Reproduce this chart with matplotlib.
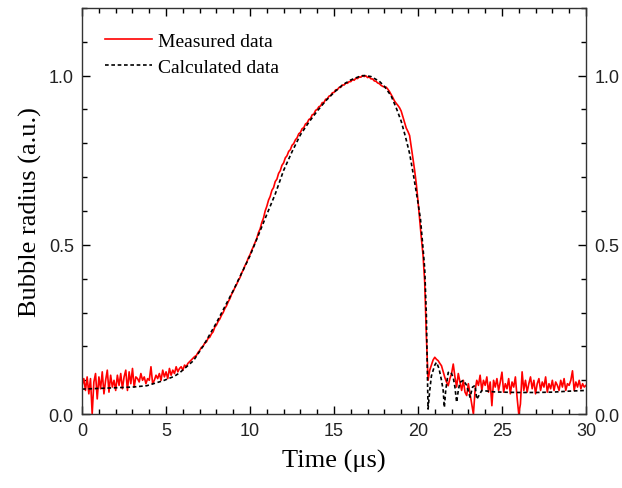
import numpy as np
import matplotlib
matplotlib.use("Agg")
import matplotlib.pyplot as plt
from matplotlib.ticker import MultipleLocator

# ─── DONNÉES ─────────────────────────────────────────────────────────────────
# mesure : pas de 0.1 µs de 0 à 30 µs
t_meas = np.round(np.arange(0, 30.001, 0.1), 1)

r_base = [0.085, 0.105, 0.07, 0.11, 0.06, 0.105, 0.0, 0.095, 0.12, 0.045,
          0.11, 0.075, 0.125, 0.06, 0.1, 0.13, 0.065, 0.115, 0.08, 0.1,
          0.07, 0.115, 0.085, 0.12, 0.075, 0.11, 0.13, 0.07, 0.125, 0.09,
          0.135, 0.08, 0.11, 0.105, 0.095, 0.12, 0.1, 0.11, 0.09, 0.105,
          0.1]                                                    # 0.0 - 4.0
r_onset = [0.14, 0.09, 0.1, 0.115, 0.105, 0.12, 0.1, 0.13, 0.11, 0.125,
           0.105, 0.135, 0.115, 0.13, 0.12, 0.14, 0.125, 0.135, 0.14, 0.13,
           0.145, 0.14, 0.15, 0.155, 0.16]                        # 4.1 - 6.5
r_rise = [0.165, 0.17, 0.173, 0.182, 0.188, 0.197, 0.2, 0.21, 0.213, 0.224,
          0.227, 0.237, 0.243, 0.257, 0.263, 0.274, 0.281, 0.292, 0.3, 0.312,
          0.32, 0.332, 0.341, 0.354, 0.363, 0.374, 0.383, 0.395, 0.403, 0.417,
          0.426, 0.439, 0.448, 0.462, 0.471, 0.484, 0.495, 0.507, 0.519, 0.536,
          0.547, 0.566, 0.579, 0.6, 0.614, 0.632, 0.643, 0.661, 0.669, 0.687,
          0.694, 0.711, 0.719, 0.735, 0.742, 0.757, 0.763, 0.776, 0.781, 0.794,
          0.799, 0.81, 0.816, 0.828, 0.832, 0.843, 0.846, 0.857, 0.86, 0.87,
          0.873, 0.884, 0.886, 0.897, 0.9, 0.908, 0.91, 0.92, 0.92, 0.93,
          0.931, 0.939, 0.941, 0.949, 0.95, 0.958, 0.958, 0.965, 0.965, 0.972,
          0.972, 0.978, 0.977, 0.982, 0.982, 0.988, 0.986, 0.992, 0.991, 0.996,
          0.995, 1.0, 0.997, 0.999, 0.994, 0.996, 0.99, 0.99, 0.984, 0.983,
          0.978, 0.976, 0.971, 0.968, 0.966, 0.966, 0.96, 0.953, 0.944, 0.935,
          0.925, 0.918, 0.912, 0.905, 0.895, 0.878, 0.86, 0.845, 0.835, 0.823,
          0.79, 0.755, 0.72, 0.68, 0.63, 0.575, 0.52, 0.47, 0.39, 0.23]  # 6.6 - 20.5
r_tail = [0.10, 0.13, 0.145, 0.16, 0.168, 0.162, 0.158, 0.15, 0.143, 0.125,
          0.108, 0.095, 0.084, 0.105, 0.12, 0.148, 0.11, 0.08, 0.12, 0.095,
          0.07, 0.1, 0.065, 0.055, 0.09, 0.06, 0.03, 0.0, 0.07, 0.1,
          0.085, 0.115, 0.07, 0.1, 0.085, 0.11, 0.065, 0.095, 0.025, 0.1,
          0.08, 0.105, 0.07, 0.095, 0.124, 0.065, 0.09, 0.075, 0.105, 0.06,
          0.095, 0.08, 0.11, 0.05, 0.0, 0.03, 0.125, 0.07, 0.1, 0.065,
          0.09, 0.11, 0.075, 0.1, 0.06, 0.09, 0.105, 0.07, 0.095, 0.08,
          0.11, 0.065, 0.09, 0.075, 0.1, 0.07, 0.095, 0.085, 0.07, 0.1,
          0.08, 0.105, 0.07, 0.09, 0.085, 0.1, 0.128, 0.07, 0.095, 0.08,
          0.1, 0.075, 0.09, 0.08, 0.085]                           # 20.6 - 30.0
r_meas = np.array(r_base + r_onset + r_rise + r_tail)

# calcul (courbe lisse)
t_calc = [0, 1, 2, 3, 3.85, 4.84, 5.5, 5.83, 6.63, 7.22, 8, 9, 10, 11, 11.5,
          12, 12.5, 13, 13.5, 14, 14.5, 15, 15.5, 16, 16.5, 16.8, 17.2, 17.7,
          18, 18.4, 18.7, 19, 19.25, 19.5, 19.75, 20, 20.15, 20.3, 20.4, 20.5,
          20.56, 20.6, 20.7, 20.8, 21.0, 21.1, 21.25, 21.4, 21.5, 21.57, 21.65,
          21.8, 21.95, 22.1, 22.2, 22.3, 22.4, 22.5, 22.7, 22.9, 23.1, 23.25,
          23.4, 23.5, 23.8, 24.5, 25, 26, 27, 28, 29, 30]
r_calc = [0.074, 0.076, 0.078, 0.080, 0.084, 0.099, 0.112, 0.123, 0.158, 0.202,
          0.27, 0.365, 0.468, 0.59, 0.65, 0.72, 0.775, 0.825, 0.862, 0.895,
          0.925, 0.95, 0.972, 0.987, 0.997, 1.0, 0.997, 0.983, 0.968, 0.94,
          0.905, 0.865, 0.82, 0.77, 0.70, 0.625, 0.575, 0.49, 0.43, 0.29,
          0.12, 0.015, 0.07, 0.113, 0.145, 0.153, 0.135, 0.1, 0.07, 0.02, 0.07,
          0.123, 0.125, 0.108, 0.08, 0.035, 0.07, 0.094, 0.1, 0.085, 0.05, 0.08,
          0.085, 0.044, 0.07, 0.066, 0.065, 0.064, 0.064, 0.065, 0.068, 0.07]

# ─── FIGURE ──────────────────────────────────────────────────────────────────
fig = plt.figure(figsize=(6.22, 4.89), dpi=100)
ax = fig.add_axes([0.132, 0.151, 0.810, 0.831])

ax.plot(t_meas, r_meas, color="#FF0000", lw=1.2, label="Measured data")
ax.plot(t_calc, r_calc, color="black", lw=1.2, linestyle=(0, (2.2, 1.6)),
        label="Calculated data")

ax.set_xlim(0, 30)
ax.set_ylim(0, 1.2)
ax.xaxis.set_major_locator(MultipleLocator(5))
ax.xaxis.set_minor_locator(MultipleLocator(1))
ax.yaxis.set_major_locator(MultipleLocator(0.5))
ax.yaxis.set_minor_locator(MultipleLocator(0.1))
ax.yaxis.set_major_formatter(plt.FuncFormatter(lambda v, p: f"{v:.1f}"))

ax.tick_params(which="both", direction="in", top=True, right=True,
               labelright=True, width=1.0)
ax.tick_params(which="major", length=6, labelsize=13, pad=6,
               labelfontfamily="Liberation Sans", labelcolor="#222222")
ax.tick_params(which="minor", length=3.5)
for s in ax.spines.values():
    s.set_linewidth(1.0)
    s.set_color("#333333")

ax.set_xlabel("Time (μs)", fontsize=19, family="Liberation Serif", labelpad=7)
ax.set_ylabel("Bubble radius (a.u.)", fontsize=19, family="Liberation Serif",
              labelpad=5)

ax.legend(loc="upper left", bbox_to_anchor=(0.03, 0.958), frameon=False,
          borderaxespad=0, handlelength=2.4, handletextpad=0.35,
          labelspacing=0.42, prop={"family": "Liberation Serif", "size": 14})

plt.savefig("out.png", dpi=100)
plt.close()
